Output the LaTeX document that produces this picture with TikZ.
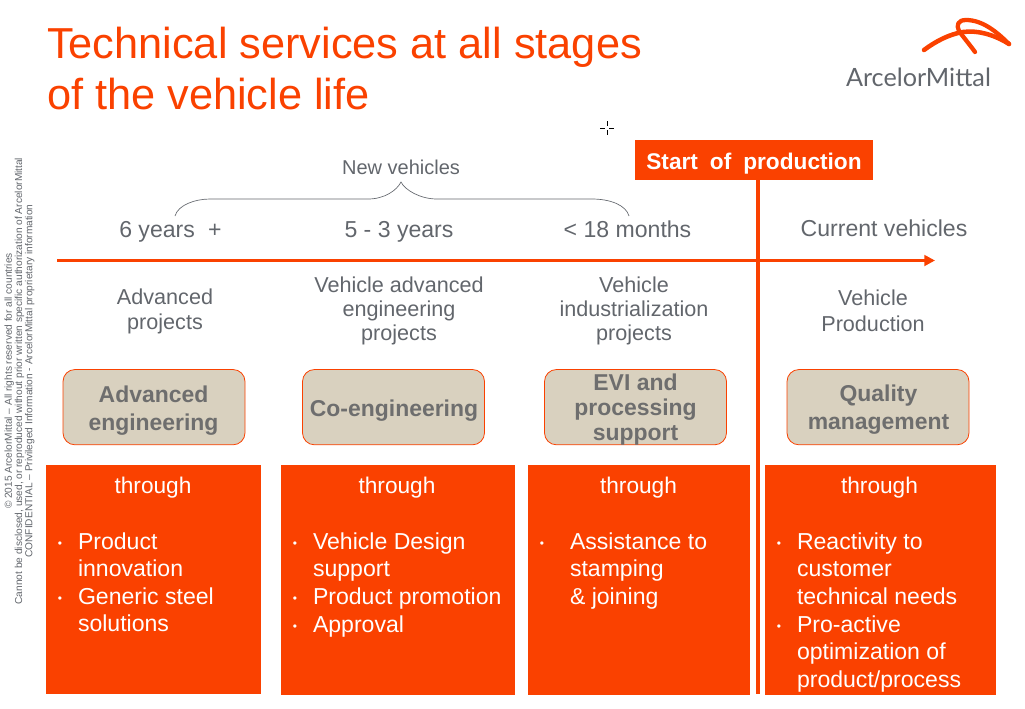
\documentclass[tikz,border=0pt]{standalone}
\usepackage{fontspec}
\setmainfont{Liberation Sans}
\newfontfamily\logofont{Lato}
\usetikzlibrary{arrows.meta}
\definecolor{amorange}{HTML}{FA4100}
\definecolor{amgrey}{HTML}{62666C}
\definecolor{ambox}{HTML}{D9D1BF}
\definecolor{ambold}{HTML}{6E6E6E}
\tikzset{
  x=0.75pt,y=-0.75pt,
  every node/.style={inner sep=0pt,outer sep=0pt},
  panel/.style={fill=amorange,draw=none,anchor=north west},
  stage/.style={fill=ambox,draw=amorange,line width=0.6pt,rounded corners=9pt,anchor=north west,minimum width=136.5pt,minimum height=56.5pt},
  stagetext/.style={align=center,text=ambold,font=\bfseries\fontsize{17.2}{20.6}\selectfont},
  head/.style={text=amgrey,align=center,font=\fontsize{16.2}{18}\selectfont},
  period/.style={text=amgrey,font=\fontsize{17.3}{20}\selectfont},
  through/.style={text=white,font=\fontsize{17}{20}\selectfont},
  body/.style={text=white,anchor=north west,align=left,font=\fontsize{17.3}{20.8}\selectfont},
  dot/.style={text=white,font=\fontsize{9}{9}\selectfont},
}
\begin{document}
\begin{tikzpicture}
\useasboundingbox (0,0) rectangle (1025,708);
% title
\node[anchor=base west,text=amorange,font=\fontsize{32.5}{39}\selectfont] (title) at (47,58) {Technical services at all stages};
\node[anchor=base west,text=amorange,font=\fontsize{32.5}{39}\selectfont] (title2) at (47,109) {of the vehicle life};
% logo
\draw[amorange,line width=3.4pt,line cap=round,line join=round] (924,50) .. controls (936,41) and (950,34) .. (963,32) .. controls (978,30) and (995,35) .. (1009,44);
\draw[amorange,line width=3.2pt,line cap=round,line join=round] (1009,44) .. controls (996,31) and (982,20) .. (966,20) .. controls (958,20) and (956,25) .. (959,31) .. controls (964,38) and (970,45) .. (975,52);
\node[anchor=base west,text=amgrey,font=\logofont\fontsize{18.9}{20}\selectfont] (logo) at (846,86) {ArcelorMittal};
% legal
\node[rotate=90,text=amgrey,align=center,font=\fontsize{7.6}{7.6}\selectfont] (legal) at (19.5,381)
 {© 2015 ArcelorMittal – All rights reserved for all countries\\
  Cannot be disclosed, used, or reproduced without prior written specific authorization of ArcelorMittal\\
  CONFIDENTIAL – Privileged Information - ArcelorMittal proprietary information};
% cursor
\draw[black,line width=0.5pt] (600,128) -- (605,128) (609,128) -- (614,128) (607,121) -- (607,126) (607,130) -- (607,135);
% axis
\coordinate (axisstart) at (57,260.5);
\coordinate (axisend) at (935,260.5);
\draw[amorange,line width=2.6pt,-{Triangle[length=8pt,width=8pt]}] (axisstart) -- (axisend);
% start of production
\node[fill=amorange,anchor=north west,minimum width=178.5pt,minimum height=30pt,text height=18pt,text depth=3.5pt,text=white,font=\bfseries\fontsize{17}{20}\selectfont] (sop) at (635,140) {Start\hspace{0.25em} of\hspace{0.25em} production};
\coordinate (sopend) at (758,694);
\draw[amorange,line width=3.6pt] (sop.south -| sopend) -- (sopend);
% brace
\node[period,font=\fontsize{15}{18}\selectfont] (newv) at (401,167) {New vehicles};
\draw[amgrey,line width=0.5pt] (175,216) .. controls (178,205) and (195,199) .. (210,199) -- (368,199) .. controls (385,199) and (397,190) .. (401,182) .. controls (405,190) and (420,199) .. (437,199) -- (592,199) .. controls (610,199) and (626,205) .. (629,216);
% periods
\node[period,anchor=base] (p1) at (170.5,237) {6 years\hspace{0.3em} +};
\node[period,anchor=base] (p2) at (399,237) {5 - 3 years};
\node[period,anchor=base] (p3) at (627.5,237) {< 18 months};
\node[period,anchor=base] (p4) at (884,236) {Current vehicles};
% heads
\node[head,font=\fontsize{16.2}{18.7}\selectfont] (h1) at (165,311.5) {Advanced\\projects};
\node[head] (h2) at (399,311) {Vehicle advanced\\engineering\\projects};
\node[head] (h3) at (634,311) {Vehicle\\industrialization\\projects};
\node[head,font=\fontsize{16.2}{19.5}\selectfont] (h4) at (873,310.5) {Vehicle\\Production};
% stages
\node[stage] (s1) at (63,369.5) {};
\node[stage] (s2) at (302.5,369.5) {};
\node[stage] (s3) at (544.5,369.5) {};
\node[stage] (s4) at (787,369.5) {};
\node[stagetext] (s1t) at (153.5,410.5) {Advanced\\engineering};
\node[stagetext] (s2t) at (394,410.5) {Co-engineering};
\node[stagetext,font=\bfseries\fontsize{17.2}{18.8}\selectfont] (s3t) at (635.5,409.5) {EVI and\\processing\\support};
\node[stagetext] (s4t) at (878.5,409.5) {Quality\\management};
% panels
\node[panel,minimum width=161.25pt,minimum height=171.75pt] (b1) at (46,465) {};
\node[panel,minimum width=175.5pt,minimum height=172.5pt] (b2) at (281,465) {};
\node[panel,minimum width=166.5pt,minimum height=172.5pt] (b3) at (528,465) {};
\node[panel,minimum width=173.25pt,minimum height=172.5pt] (b4) at (765,465) {};
\node[through] (t1) at (153,488) {through};
\node[through] (t2) at (397,488) {through};
\node[through] (t3) at (638.5,488) {through};
\node[through] (t4) at (879.5,488) {through};
% bullets
\node[body] (c1a) at (78,532.5) {Product\\innovation};
\node[body] (c1b) at (78,587.5) {Generic steel\\solutions};
\node[body] (c2a) at (313,532.5) {Vehicle Design\\support};
\node[body] (c2b) at (313,587.5) {Product promotion};
\node[body] (c2c) at (313,615.5) {Approval};
\node[body] (c3a) at (570,532.5) {Assistance to\\stamping\\\& joining};
\node[body] (c4a) at (797,532.5) {Reactivity to\\customer\\technical needs};
\node[body] (c4b) at (797,615.5) {Pro-active\\optimization of\\product/process};
\foreach \n/\xx/\yy in {d1/60/545,d2/60/600,d3/295/545,d4/295/600,d5/295/628,d6/542/545,d7/779/545,d8/779/628}
  \node[dot] (\n) at (\xx,\yy) {•};
\end{tikzpicture}
\end{document}
